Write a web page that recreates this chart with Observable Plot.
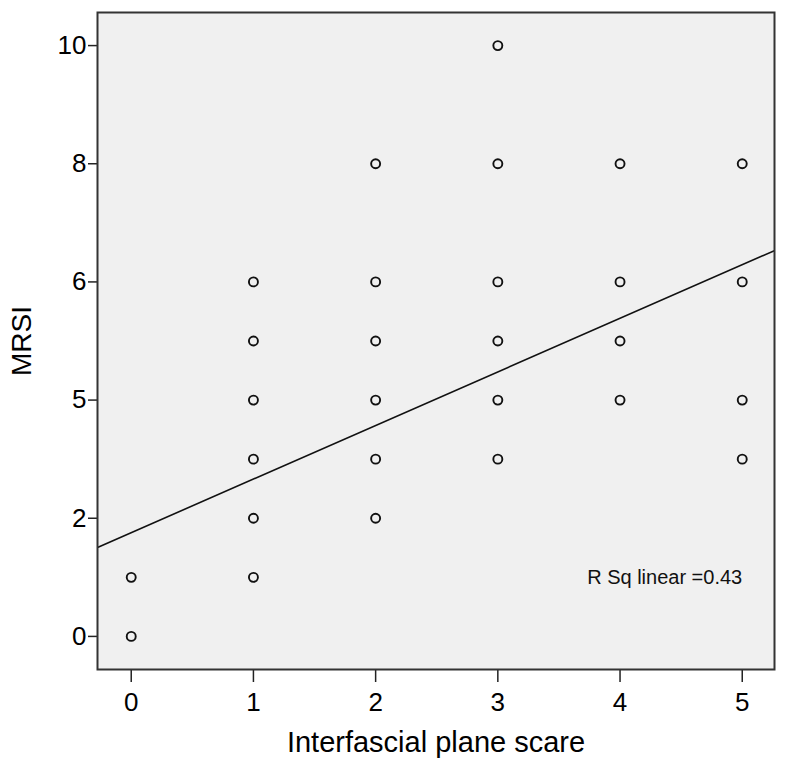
<!DOCTYPE html>
<html>
<head>
<meta charset="utf-8">
<script src="https://cdn.jsdelivr.net/npm/d3@7"></script>
<script src="https://cdn.jsdelivr.net/npm/@observablehq/plot@0.6"></script>
<style>
  html, body { margin: 0; padding: 0; background: #ffffff; }
  #chart svg { display: block; }
</style>
</head>
<body>
<div id="chart"></div>
<script>
// Data
const xScore = [0, 0, 1, 1, 1, 1, 1, 1, 2, 2, 2, 2, 2, 2, 3, 3, 3, 3, 3, 3, 4, 4, 4, 4, 5, 5, 5, 5];
const mrsi   = [0, 1, 1, 2, 3, 4, 5, 6, 2, 3, 4, 5, 6, 8, 3, 4, 5, 6, 8, 10, 4, 5, 6, 8, 3, 4, 6, 8];

const xTickValues = [0, 1, 2, 3, 4, 5];
const yTickValues = [0, 2, 4, 6, 8, 10];
const yTickLabels = ["0", "2", "5", "6", "8", "10"];

const regressionIntercept = 1.756;
const regressionSlope = 0.907;
const rSqLabel = ["R Sq linear =0.43"];

const xTitle = "Interfascial plane scare";
const yTitle = "MRSI";

const xDomain = [-0.276, 5.264];
const yDomain = [-0.56, 10.56];

const points = xScore.map((x, i) => ({x, y: mrsi[i]}));
const fitLine = xDomain.map(x => ({x, y: regressionIntercept + regressionSlope * x}));

const font = "'Liberation Sans', Arial, Helvetica, sans-serif";

const chart = Plot.plot({
  width: 787,
  height: 758,
  marginLeft: 97,
  marginRight: 13,
  marginTop: 12,
  marginBottom: 89,
  style: {fontFamily: font, background: "#ffffff", color: "#000"},
  x: {domain: xDomain},
  y: {domain: yDomain},
  marks: [
    Plot.frame({fill: "#f0f0f0", stroke: "none"}),
    Plot.axisY({
      ticks: yTickValues,
      tickFormat: (d) => yTickLabels[yTickValues.indexOf(d)],
      tickSize: 9,
      tickPadding: 2,
      fontSize: 26,
      stroke: "#222",
      strokeWidth: 1.5,
      label: null
    }),
    Plot.axisX({
      ticks: xTickValues,
      tickFormat: d3.format("d"),
      tickSize: 13,
      tickPadding: 10,
      fontSize: 26,
      stroke: "#222",
      strokeWidth: 1.5,
      label: null
    }),
    Plot.dot(points, {x: "x", y: "y", r: 4.5, stroke: "#111", strokeWidth: 1.9, fill: "none"}),
    Plot.line(fitLine, {x: "x", y: "y", stroke: "#111", strokeWidth: 1.6, clip: true}),
    Plot.text(rSqLabel, {x: 5, y: 1, text: d => d, textAnchor: "end", fontSize: 20, fill: "#111"}),
    Plot.frame({stroke: "#333", strokeWidth: 2, fill: "none"}),
    Plot.text([yTitle], {frameAnchor: "left", dx: -75, rotate: -90, textAnchor: "middle", lineAnchor: "middle", text: d => d, fontSize: 28, fill: "#000"}),
    Plot.text([xTitle], {frameAnchor: "bottom", dy: 73, textAnchor: "middle", lineAnchor: "middle", text: d => d, fontSize: 29, fill: "#000"})
  ]
});

document.getElementById("chart").appendChild(chart);
</script>
</body>
</html>
